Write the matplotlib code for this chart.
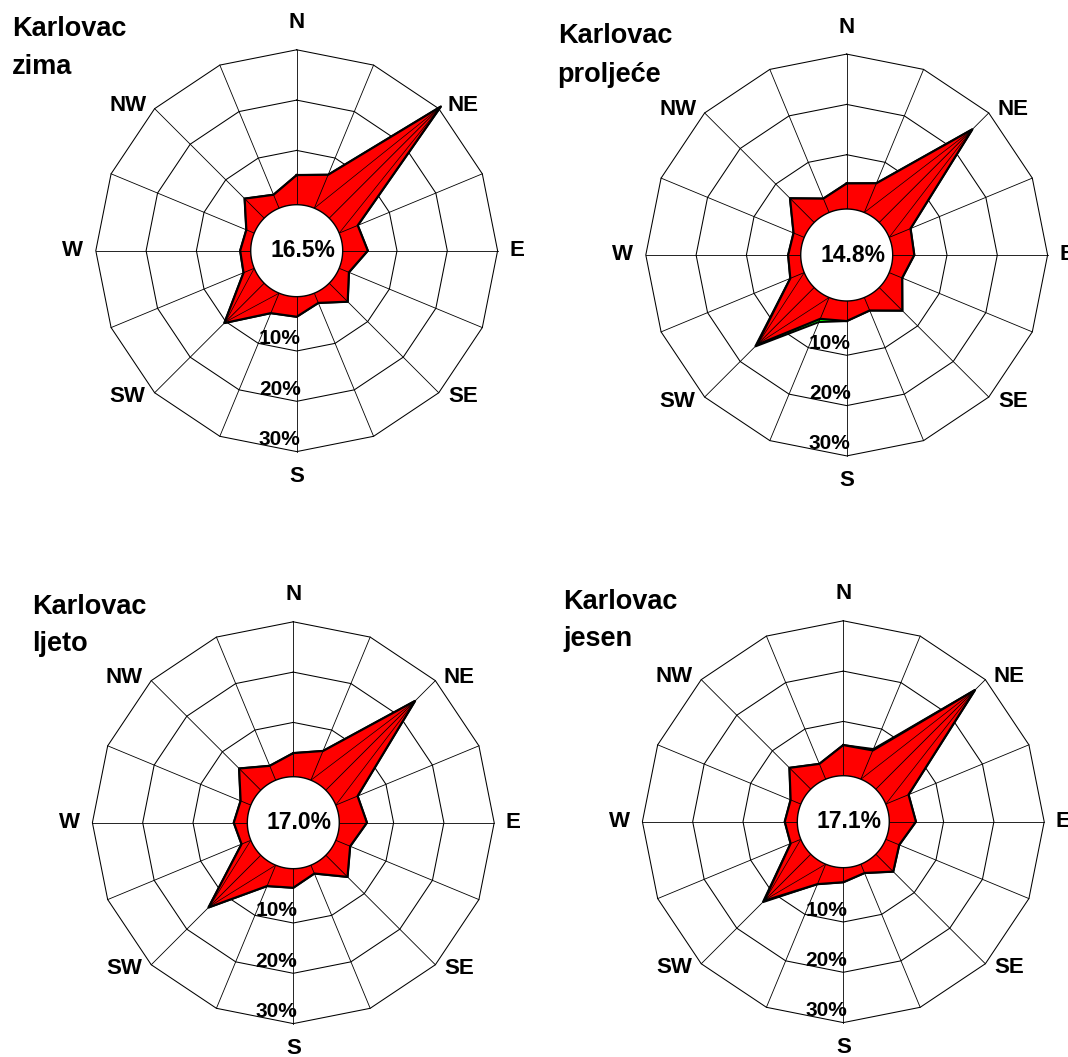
import numpy as np
import matplotlib
matplotlib.use('Agg')
import matplotlib.pyplot as plt

plt.rcParams['font.family'] = ['Liberation Sans', 'DejaVu Sans']
plt.rcParams['font.weight'] = 'bold'

directions = ['N', 'NNE', 'NE', 'ENE', 'E', 'ESE', 'SE', 'SSE',
              'S', 'SSW', 'SW', 'WSW', 'W', 'WNW', 'NW', 'NNW']
label_dirs = ['N', 'NE', 'E', 'SE', 'S', 'SW', 'W', 'NW']

# wind direction frequency (%), all speed classes
zima = [5.1, 6.4, 30.6, 3.2, 4.2, 1.3, 4.4, 1.3, 3.2, 3.5, 10.4, 1.5, 1.3, 0.9, 4.7, 2.1]
proljece = [4.3, 5.5, 25.4, 3.8, 3.5, 2.0, 5.7, 2.0, 3.2, 3.8, 15.3, 2.2, 1.7, 1.5, 6.0, 2.2]
ljeto = [3.9, 5.5, 24.3, 3.9, 4.7, 2.3, 5.3, 1.0, 3.0, 3.7, 13.9, 1.2, 1.9, 1.4, 5.3, 2.3]
jesen = [5.3, 5.4, 27.1, 4.1, 4.5, 2.1, 4.1, 1.1, 2.1, 3.5, 12.3, 1.4, 1.7, 1.4, 5.2, 2.5]

# strongest class (green), on top of the totals above
jaki_zima = [0, 0, 0, 0, 0, 0, 0, 0, 0, 0, 0, 0, 0, 0, 0, 0]
jaki_proljece = [0, 0, 0, 0, 0, 0, 0, 0, 0, 0.7, 0.5, 0, 0, 0, 0, 0]
jaki_ljeto = [0, 0, 0, 0, 0, 0, 0, 0, 0, 0, 0, 0, 0, 0, 0, 0]
jaki_jesen = [0, 0.3, 0, 0, 0, 0, 0, 0, 0, 0, 0.4, 0, 0, 0, 0, 0]

# weakest class, only shows up in the two main directions
slabi_zima = [0, 0, 30.2, 0, 0, 0, 0, 0, 0, 0, 10.1, 0, 0, 0, 0, 0]
slabi_proljece = [0, 0, 25.0, 0, 0, 0, 0, 0, 0, 0, 15.0, 0, 0, 0, 0, 0]
slabi_ljeto = [0, 0, 24.0, 0, 0, 0, 0, 0, 0, 0, 13.6, 0, 0, 0, 0, 0]
slabi_jesen = [0, 0, 26.8, 0, 0, 0, 0, 0, 0, 0, 12.0, 0, 0, 0, 0, 0]

calm = ['16.5%', '14.8%', '17.0%', '17.1%']
seasons = ['zima', 'proljeće', 'ljeto', 'jesen']
rings = [10, 20, 30]
ring_labels = ['10%', '20%', '30%']

W, H = 1068, 1057
PX = 5.03          # pixels per percent
HOLE = 50 / PX     # zero sits 50 px from centre
CIRC = -0.8        # white calm circle
RMAX = 33

fig = plt.figure(figsize=(W / 100, H / 100), dpi=100)

panels = [
    (296.7, 250.7, zima, jaki_zima, slabi_zima, (11.7, 36), (11.7, 74)),
    (846.7, 255.0, proljece, jaki_proljece, slabi_proljece, (557.7, 43.3), (557.7, 81.7)),
    (293.3, 822.7, ljeto, jaki_ljeto, slabi_ljeto, (31.7, 614.3), (31.7, 650.7)),
    (843.3, 821.7, jesen, jaki_jesen, slabi_jesen, (563.3, 609.3), (563.3, 646)),
]

theta = np.deg2rad(np.arange(16) * 22.5)
th_closed = np.append(theta, theta[0])
circ_th = np.linspace(0, 2 * np.pi, 200)

label_off = {'N': (0, 27), 'NE': (24, 3), 'E': (19, 0), 'SE': (24, -4),
             'S': (0, -25), 'SW': (-27, -4), 'W': (-23, 0), 'NW': (-27, 3)}

for i, (cx, cy, vals, jaki, slabi, t1, t2) in enumerate(panels):
    half = (RMAX + HOLE) * PX
    rect = [(cx - half) / W, 1 - (cy + half) / H, 2 * half / W, 2 * half / H]
    ax = fig.add_axes(rect, projection='polar')
    ax.set_theta_zero_location('N')
    ax.set_theta_direction(-1)
    ax.set_ylim(CIRC, RMAX)
    ax.set_rorigin(-HOLE)
    ax.axis('off')

    for lvl in rings:
        ax.plot(th_closed, [lvl] * 17, color='black', lw=0.75, zorder=1, clip_on=False)

    vals = np.array(vals)
    total = vals + np.array(jaki)
    ax.fill(th_closed, np.append(total, total[0]), facecolor='#00ff00',
            edgecolor='black', lw=1.4, zorder=2, clip_on=False)
    ax.fill(th_closed, np.append(vals, vals[0]), facecolor='#ff0000',
            edgecolor='none', zorder=3, clip_on=False)

    for a in theta:
        ax.plot([a, a], [CIRC, 30], color='black', lw=0.6, zorder=4, clip_on=False)

    sl = np.array(slabi, dtype=float)
    sl = np.where(sl > 0, sl, CIRC)
    ax.plot(th_closed, np.append(sl, sl[0]), color='black', lw=0.5, zorder=4, clip_on=False)

    ax.plot(th_closed, np.append(vals, vals[0]), color='black', lw=1.6, zorder=5, clip_on=False)

    ax.fill(circ_th, [CIRC] * len(circ_th), facecolor='white', edgecolor='black',
            lw=1.0, zorder=6, clip_on=False)

    ax.annotate(calm[i], xy=(0.5, 0.5), xycoords='axes fraction', xytext=(6, 0),
                textcoords='offset pixels', ha='center', va='center',
                fontsize=16.5, fontweight='bold', zorder=7)

    for lab, txt in zip(rings, ring_labels):
        ax.annotate(txt, xy=(np.pi, lab), xytext=(4, 12), textcoords='offset pixels',
                    ha='right', va='center', fontsize=15, fontweight='bold', zorder=7,
                    annotation_clip=False)

    for d in label_dirs:
        a = theta[directions.index(d)]
        ax.annotate(d, xy=(a, 30), xytext=label_off[d], textcoords='offset pixels',
                    ha='center', va='center', fontsize=16, fontweight='bold',
                    annotation_clip=False)

    fig.text(t1[0] / W, 1 - t1[1] / H, 'Karlovac', fontsize=19.5, fontweight='bold',
             ha='left', va='baseline')
    fig.text(t2[0] / W, 1 - t2[1] / H, seasons[i], fontsize=19.5, fontweight='bold',
             ha='left', va='baseline')

fig.savefig('out.png', dpi=100)
